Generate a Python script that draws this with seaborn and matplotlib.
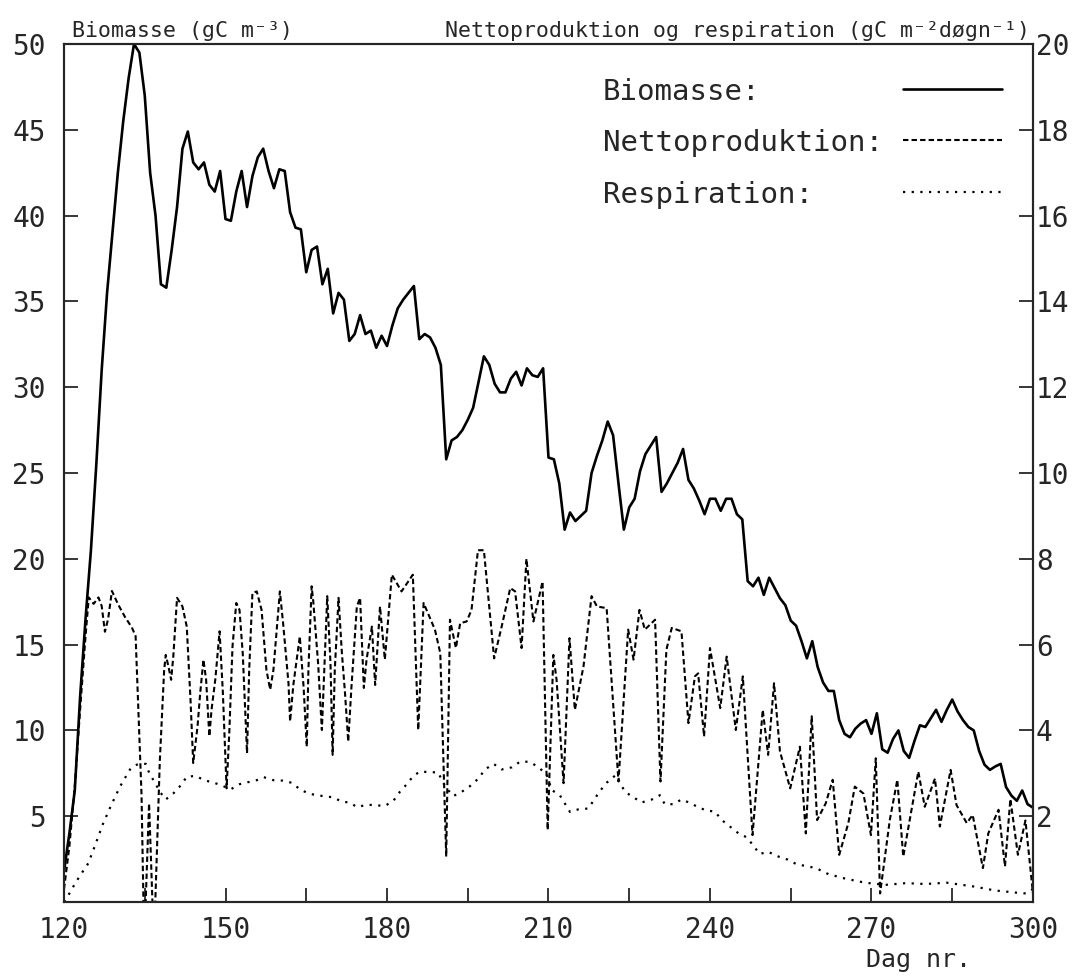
import numpy as np
import matplotlib
matplotlib.use("Agg")
import matplotlib.pyplot as plt
import seaborn as sns

# ------------------------
# Data
# ------------------------
# Biomasse (gC m-3), one value per day
bio_day = np.arange(120, 301)
bio_val = [
    1.8, 4.0, 6.5, 12.0, 16.5, 20.5, 25.5, 31.0, 35.5, 39.0,
    42.5, 45.5, 48.0, 50.0, 49.5, 47.0, 42.5, 40.0, 36.0, 35.8,
    38.0, 40.5, 43.9, 44.9, 43.1, 42.7, 43.1, 41.8, 41.4, 42.6,
    39.8, 39.7, 41.4, 42.6, 40.5, 42.3, 43.4, 43.9, 42.6, 41.6,
    42.7, 42.6, 40.2, 39.3, 39.2, 36.7, 38.0, 38.2, 36.0, 36.9,
    34.3, 35.5, 35.1, 32.7, 33.1, 34.2, 33.1, 33.3, 32.3, 33.0,
    32.4, 33.6, 34.6, 35.1, 35.5, 35.9, 32.8, 33.1, 32.9, 32.3,
    31.3, 25.8, 26.9, 27.1, 27.5, 28.1, 28.8, 30.3, 31.8, 31.3,
    30.2, 29.7, 29.7, 30.5, 30.9, 30.1, 31.1, 30.7, 30.6, 31.1,
    25.9, 25.8, 24.4, 21.7, 22.7, 22.2, 22.5, 22.8, 25.0, 26.0,
    26.9, 28.0, 27.2, 24.4, 21.7, 23.0, 23.5, 25.1, 26.1, 26.6,
    27.1, 23.9, 24.4, 25.0, 25.6, 26.4, 24.6, 24.1, 23.4, 22.6,
    23.5, 23.5, 22.8, 23.5, 23.5, 22.6, 22.3, 18.7, 18.4, 18.9,
    17.9, 18.9, 18.3, 17.7, 17.3, 16.4, 16.1, 15.2, 14.2, 15.2,
    13.7, 12.8, 12.3, 12.3, 10.6, 9.8, 9.6, 10.1, 10.4, 10.6,
    9.8, 11.0, 8.9, 8.7, 9.5, 10.0, 8.8, 8.4, 9.4, 10.3,
    10.2, 10.7, 11.2, 10.5, 11.2, 11.8, 11.1, 10.6, 10.2, 10.0,
    8.8, 8.0, 7.7, 7.9, 8.05, 6.7, 6.2, 5.9, 6.5, 5.7,
    5.5]

# Nettoproduktion (gC m-2 doegn-1)
prod_day = [
    120.0, 121.0, 122.0, 123.0, 124.0, 124.6, 125.5, 126.4, 127.0, 127.6,
    128.2, 128.9, 130.0, 131.3, 132.6, 133.3, 133.8, 134.4, 134.9, 135.8,
    136.7, 137.8, 138.6, 138.9, 139.4, 139.9, 140.3, 141.0,
    142.0, 142.8, 143.5, 144.0, 144.8, 145.3, 145.9, 146.4, 147.0, 147.4,
    148.1, 148.9, 149.5, 150.2, 150.7, 151.3, 152.0, 152.6, 153.2, 154.0,
    154.4, 155.0, 155.8, 156.7, 157.6, 158.3, 158.9, 160.1, 160.7, 161.7,
    162.0, 162.6, 163.8, 164.5, 165.1, 165.4, 166.0, 166.3, 167.2, 167.9,
    168.5, 168.9, 169.5, 169.9, 170.3, 171.0, 171.6, 172.2, 172.8, 173.4,
    174.4, 175.0, 175.7, 176.2, 177.2, 177.8, 178.7, 179.6, 180.9, 182.7,
    184.8, 185.8, 186.8, 188.9, 189.9, 191.0, 191.7, 192.8, 193.6, 194.8,
    195.7, 196.9, 198.0, 199.9, 201.3, 202.9, 203.8, 205.0, 205.9, 207.2,
    208.9, 209.85, 210.9, 211.5, 212.8, 213.9, 214.9, 216.5, 218.0, 219.0,
    220.8, 223.0, 224.8, 225.8, 226.9, 227.9, 229.8, 230.8, 231.9, 232.9,
    234.7, 236.0, 237.2, 237.8, 238.9, 240.0, 241.9, 243.1, 244.8, 246.1,
    247.9, 249.8, 250.8, 251.9, 253.0, 254.9, 256.7, 257.8, 258.9, 259.9,
    261.5, 262.8, 264.0, 265.7, 266.9, 268.5, 269.9, 270.8, 271.6, 273.4,
    274.8, 275.9, 278.7, 279.9, 281.8, 282.7, 284.7, 285.8, 287.7, 288.8,
    290.7, 291.7, 293.6, 294.8, 295.8, 297.2, 298.6, 300.0]
prod_val = [
    0.3, 1.3, 2.7, 4.5, 6.2, 7.1, 6.95, 7.1, 6.9, 6.3,
    6.6, 7.25, 6.95, 6.65, 6.4, 6.2, 4.5, 2.5, -1.0, 2.3,
    -1.0, 3.3, 5.4, 5.76, 5.49, 5.18, 5.72, 7.09,
    6.89, 6.42, 4.71, 3.24, 4.09, 4.87, 5.65, 5.18, 3.86, 4.48,
    5.18, 6.31, 4.91, 2.65, 3.94, 5.96, 6.97, 6.81, 5.80, 3.47,
    5.41, 7.20, 7.24, 6.81, 5.41, 4.95, 5.41, 7.24, 6.50, 5.10,
    4.21, 5.06, 6.19, 5.02, 3.62, 5.41, 7.36, 7.01, 5.57, 4.01,
    5.92, 7.13, 5.57, 3.43, 5.41, 7.09, 5.84, 4.87, 3.74, 5.02,
    6.89, 7.09, 4.99, 5.65, 6.42, 5.06, 6.89, 5.65, 7.63, 7.24,
    7.63, 4.01, 6.97, 6.35, 5.80, 1.06, 6.58, 5.92, 6.50, 6.54,
    6.81, 8.2, 8.2, 5.68, 6.42, 7.32, 7.24, 5.92, 8.0, 6.54,
    7.47, 1.68, 5.76, 5.18, 2.77, 6.15, 4.48, 5.49, 7.13, 6.89,
    6.85, 2.81, 6.35, 5.65, 6.81, 6.35, 6.58, 2.81, 5.88, 6.39,
    6.31, 4.17, 5.26, 5.33, 3.86, 5.92, 4.52, 5.72, 4.01, 5.26,
    1.56, 4.48, 3.43, 5.10, 3.51, 2.65, 3.62, 1.60, 4.33, 1.91,
    2.3, 2.85, 1.10, 1.84, 2.69, 2.53, 1.56, 3.35, 0.2, 1.91,
    2.85, 1.06, 3.04, 2.22, 2.88, 1.76, 3.08, 2.26, 1.84, 2.03,
    0.79, 1.60, 2.15, 0.83, 2.4, 1.1, 1.9, 0.2]

# Respiration (gC m-2 doegn-1)
resp_day = [
    120.0, 121.0, 122.0, 123.0, 124.5, 125.8, 127.2, 128.7, 130.4, 132.4,
    133.8, 135.2, 135.85, 136.9, 137.8, 138.9, 140.3, 141.7, 142.8, 144.5,
    146.0, 147.9, 149.6, 151.0, 152.7, 155.8, 157.1, 158.9, 160.6, 162.3,
    163.8, 165.4, 166.9, 170.0, 171.6, 173.0, 174.5, 176.2, 179.6, 181.2,
    182.4, 183.7, 184.9, 186.1, 189.5, 190.8, 192.3, 193.9, 195.4, 197.0,
    198.2, 199.8, 201.3, 203.2, 204.7, 206.4, 208.1, 209.7, 210.6, 212.1,
    214.0, 215.55, 217.4, 219.45, 220.8, 222.5, 224.2, 225.8, 227.3, 229.2,
    230.7, 231.6, 233.2, 234.7, 236.3, 237.8, 239.4, 240.9, 242.2, 243.7,
    245.3, 246.8, 248.1, 249.2, 250.8, 252.7, 254.4, 256.1, 257.8, 259.7,
    262.0, 265.0, 268.8, 272.6, 276.4, 280.0, 284.0, 289.1, 292.9, 296.8,
    298.7, 300.0]
resp_val = [
    0.0, 0.2, 0.42, 0.62, 0.90, 1.33, 1.81, 2.24, 2.69, 3.12,
    3.22, 3.22, 3.0, 2.78, 2.57, 2.39, 2.53, 2.72, 2.92, 2.94,
    2.84, 2.78, 2.70, 2.63, 2.75, 2.84, 2.91, 2.84, 2.83, 2.78,
    2.63, 2.53, 2.49, 2.44, 2.34, 2.32, 2.21, 2.27, 2.24, 2.36,
    2.57, 2.75, 2.94, 3.04, 3.02, 2.69, 2.47, 2.57, 2.70, 2.88,
    3.09, 3.22, 3.09, 3.14, 3.27, 3.27, 3.15, 2.96, 2.61, 2.49,
    2.10, 2.16, 2.18, 2.57, 2.78, 2.96, 2.57, 2.44, 2.32, 2.39,
    2.49, 2.28, 2.28, 2.39, 2.31, 2.21, 2.13, 2.11, 1.91, 1.76,
    1.60, 1.51, 1.31, 1.12, 1.17, 1.06, 0.99, 0.88, 0.84, 0.79,
    0.65, 0.55, 0.45, 0.40, 0.44, 0.42, 0.45, 0.36, 0.27, 0.22,
    0.20, 0.30]

legend_labels = ['Biomasse:', 'Nettoproduktion:', 'Respiration:']

# ==========================
# Plotting
# ==========================
sns.set_style('ticks')
plt.rcParams['font.family'] = ['DejaVu Sans Mono', 'DejaVu Sans']
plt.rcParams['axes.linewidth'] = 1.5

dash_style = (0, (2.6, 1.5))
dot_style = (0, (1, 2.9))

fig = plt.figure(figsize=(10.74, 9.76), dpi=100)
ax = fig.add_axes([0.0596, 0.0758, 0.9022, 0.8791])
ax2 = ax.twinx()

sns.lineplot(x=bio_day, y=bio_val, ax=ax, color='black', linewidth=1.9)
sns.lineplot(x=prod_day, y=prod_val, ax=ax2, color='black', linewidth=1.5,
             linestyle=dash_style)
sns.lineplot(x=resp_day, y=resp_val, ax=ax2, color='black', linewidth=1.6,
             linestyle=dot_style)

# axes ranges and ticks
ax.set_xlim(120, 300)
ax.set_ylim(0, 50)
ax2.set_ylim(0, 20)

xticks = np.arange(120, 301, 15)
ax.set_xticks(xticks)
ax.set_xticklabels([str(t) if (t - 120) % 30 == 0 else '' for t in xticks])
yticks = np.arange(0, 51, 5)
ax.set_yticks(yticks)
ax.set_yticklabels(['' if t == 0 else str(t) for t in yticks])
y2ticks = np.arange(0, 21, 2)
ax2.set_yticks(y2ticks)
ax2.set_yticklabels(['' if t == 0 else str(t) for t in y2ticks])

ax.tick_params(axis='x', direction='in', length=10, width=1.3,
               labelsize=20, pad=10, top=False)
ax.tick_params(axis='y', direction='in', length=10, width=1.3,
               labelsize=20, pad=13, right=False)
ax2.tick_params(axis='y', direction='in', length=10, width=1.3,
                labelsize=20, pad=2)
ax.set_ylabel('')
ax2.set_ylabel('')
for a in (ax, ax2):
    for s in a.spines.values():
        s.set_visible(True)
        s.set_linewidth(1.5)

ax.set_xlabel('Dag nr.', fontsize=18)
ax.xaxis.set_label_coords(0.882, -0.054)

# axis titles above the frame
ax.text(0.008, 1.004, 'Biomasse (gC m\u207b\u00b3)', transform=ax.transAxes,
        fontsize=15.5, ha='left', va='bottom')
ax.text(0.997, 1.004, 'Nettoproduktion og respiration (gC m\u207b\u00b2d\u00f8gn\u207b\u00b9)',
        transform=ax.transAxes, fontsize=15.5, ha='right', va='bottom')

# legend: text on the left, line sample on the right
leg_y = [0.944, 0.885, 0.824]
leg_styles = ['-', dash_style, dot_style]
leg_lw = [1.9, 1.5, 1.6]
for lab, yy, ls, lw in zip(legend_labels, leg_y, leg_styles, leg_lw):
    ax.text(0.556, yy, lab, transform=ax.transAxes, fontsize=21,
            ha='left', va='center')
    ax.plot([0.866, 0.968], [yy + 0.003, yy + 0.003], transform=ax.transAxes,
            color='black', linewidth=lw, linestyle=ls)

plt.savefig('out.png', dpi=100)
plt.close('all')
